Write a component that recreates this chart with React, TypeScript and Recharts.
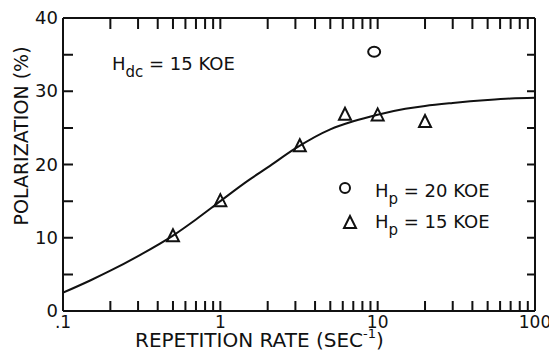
import {
  ComposedChart,
  Line,
  Scatter,
  XAxis,
  YAxis,
} from "recharts";

// fitted curve (rate in 1/s, polarization in %)
const curveRate = [0.1, 0.15, 0.2, 0.3, 0.5, 0.7, 1, 1.5, 2, 3, 5, 7, 10, 15, 20, 30, 50, 70, 100];
const curvePol = [2.5, 4.2, 5.5, 7.5, 10.3, 12.5, 15, 17.8, 19.6, 22.2, 24.8, 25.9, 26.8, 27.6, 28.0, 28.4, 28.8, 29.0, 29.1];

// Hp = 15 KOE (triangles)
const triRate = [0.5, 1, 3.2, 6.2, 10, 20];
const triPol = [10.2, 15, 22.5, 26.8, 26.7, 25.8];

// Hp = 20 KOE (circle)
const circRate = [9.5];
const circPol = [35.4];

const xMajor = [0.1, 1, 10, 100];
const xMajorLabels = [".1", "1", "10", "100"];
const xMinor = [0.2, 0.3, 0.4, 0.5, 0.6, 0.7, 0.8, 0.9, 1, 2, 3, 4, 5, 6, 7, 8, 9, 10, 20, 30, 40, 50, 60, 70, 80, 90];
const yTicks = [0, 10, 20, 30, 40];
const yInner = [5, 10, 15, 20, 25, 30, 35];

const curveData = curveRate.map((x, i) => ({ x, y: curvePol[i] }));
const triData = triRate.map((x, i) => ({ x, y: triPol[i] }));
const circData = circRate.map((x, i) => ({ x, y: circPol[i] }));

const INK = "#111";
const FONT = "'DejaVu Sans', sans-serif";
const frame = { stroke: INK, strokeWidth: 2 };

// plot box (matches the axis sizes below)
const W = 557;
const H = 351;
const LEFT = 63;
const RIGHT = W - 22;
const TOP = 18;
const BOTTOM = H - 40;
const px = (v: number) => LEFT + ((Math.log10(v) + 1) / 3) * (RIGHT - LEFT);
const py = (v: number) => BOTTOM - (v / 40) * (BOTTOM - TOP);

// inward frame ticks, one path per side
const bottomTickPath = xMinor.map((v) => `M${px(v)},${BOTTOM}V${BOTTOM - 10}`).join("");
const topTickPath = xMinor.map((v) => `M${px(v)},${TOP}V${TOP + 11}`).join("");
const leftTickPath = yInner.map((v) => `M${LEFT},${py(v)}H${LEFT + 10}`).join("");
const rightTickPath = yInner.map((v) => `M${RIGHT},${py(v)}H${RIGHT - 8}`).join("");

function BottomLabel({ x, y, payload }: any) {
  const idx = xMajor.indexOf(payload.value);
  if (idx < 0) return <g />;
  return (
    <text x={x} y={y + 17} textAnchor="middle" fontSize={17} fontFamily={FONT} fill={INK}>
      {xMajorLabels[idx]}
    </text>
  );
}

function LeftLabel({ x, y, payload }: any) {
  return (
    <text x={x - 5} y={y + 6} textAnchor="end" fontSize={18} fontFamily={FONT} fill={INK}>
      {payload.value}
    </text>
  );
}

function Triangle({ cx, cy }: any) {
  return (
    <polygon
      points={`${cx},${cy - 7} ${cx - 6},${cy + 5} ${cx + 6},${cy + 5}`}
      fill="none"
      stroke={INK}
      strokeWidth={2}
    />
  );
}

function Ring({ cx, cy }: any) {
  return <ellipse cx={cx} cy={cy} rx={6} ry={5} fill="none" stroke={INK} strokeWidth={2} />;
}

export default function App() {
  return (
    <div style={{ marginTop: -8, marginLeft: -8 }}>
      <ComposedChart width={W} height={H} margin={{ top: 0, right: 0, bottom: 0, left: 0 }}>
        <XAxis
          dataKey="x"
          type="number"
          scale="log"
          domain={[0.1, 100]}
          allowDataOverflow
          ticks={xMajor}
          interval={0}
          tickSize={0}
          tickMargin={0}
          height={40}
          axisLine={frame}
          tickLine={false}
          tick={<BottomLabel />}
        />
        <XAxis
          xAxisId="top"
          orientation="top"
          type="number"
          scale="log"
          domain={[0.1, 100]}
          allowDataOverflow
          height={18}
          axisLine={frame}
          tickLine={false}
          tick={false}
        />
        <YAxis
          type="number"
          domain={[0, 40]}
          ticks={yTicks}
          interval={0}
          tickSize={0}
          tickMargin={0}
          width={63}
          axisLine={frame}
          tickLine={false}
          tick={<LeftLabel />}
        />
        <YAxis
          yAxisId="right"
          orientation="right"
          type="number"
          domain={[0, 40]}
          width={22}
          axisLine={frame}
          tickLine={false}
          tick={false}
        />

        <path d={bottomTickPath} stroke={INK} strokeWidth={2} fill="none" />
        <path d={topTickPath} stroke={INK} strokeWidth={2} fill="none" />
        <path d={leftTickPath} stroke={INK} strokeWidth={2} fill="none" />
        <path d={rightTickPath} stroke={INK} strokeWidth={2} fill="none" />

        <Line
          data={curveData}
          dataKey="y"
          type="monotone"
          stroke={INK}
          strokeWidth={2}
          dot={false}
          isAnimationActive={false}
        />
        <Scatter data={triData} dataKey="y" shape={<Triangle />} isAnimationActive={false} />
        <Scatter data={circData} dataKey="y" shape={<Ring />} isAnimationActive={false} />

        {/* annotations */}
        <text x={112} y={70} fontSize={18} fontFamily={FONT} fill={INK}>
          H<tspan fontSize={15} dy={7}>dc</tspan>
          <tspan dy={-7}> = 15 KOE</tspan>
        </text>
        <ellipse cx={345} cy={188} rx={5} ry={5} fill="none" stroke={INK} strokeWidth={2} />
        <text x={375} y={197} fontSize={18} fontFamily={FONT} fill={INK}>
          H<tspan fontSize={15} dy={7}>p</tspan>
          <tspan dy={-7}> = 20 KOE</tspan>
        </text>
        <polygon points="350,216 344,228 356,228" fill="none" stroke={INK} strokeWidth={2} />
        <text x={375} y={228} fontSize={18} fontFamily={FONT} fill={INK}>
          H<tspan fontSize={15} dy={7}>p</tspan>
          <tspan dy={-7}> = 15 KOE</tspan>
        </text>

        {/* axis titles */}
        <text x={135} y={347} fontSize={20} fontFamily={FONT} fill={INK}>
          REPETITION RATE (SEC<tspan fontSize={13} dy={-9}>-1</tspan>
          <tspan dy={9}>)</tspan>
        </text>
        <text
          x={0}
          y={0}
          transform="translate(28,136) rotate(-90)"
          textAnchor="middle"
          fontSize={19}
          fontFamily={FONT}
          fill={INK}
        >
          POLARIZATION (%)
        </text>
      </ComposedChart>
    </div>
  );
}
